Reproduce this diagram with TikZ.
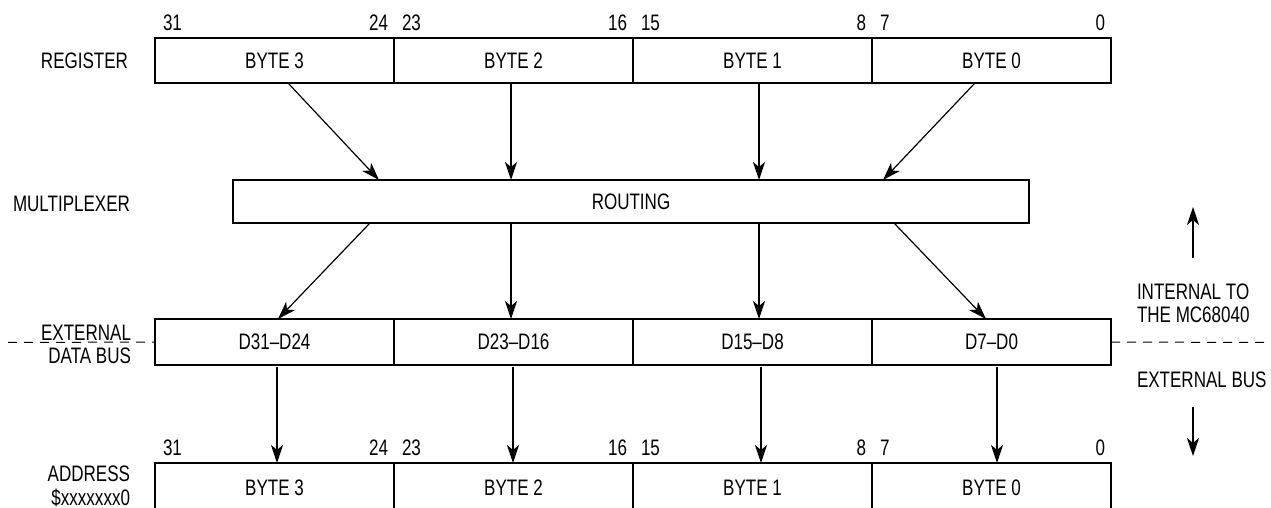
\documentclass[tikz,border=0pt]{standalone}
\usepackage{fontspec}
\setmainfont[FakeStretch=0.76]{Liberation Sans}
\usetikzlibrary{arrows.meta,calc}
\begin{document}
\begin{tikzpicture}[x=0.5pt,y=-0.5pt,
  every node/.style={font=\fontsize{11.2}{11.7}\selectfont, inner sep=0pt, outer sep=0pt},
  box/.style={draw, line width=1.3pt, minimum width=119.5pt, minimum height=22.5pt},
  arr/.style={line width=0.6pt, -{Stealth[length=9pt,width=6pt,inset=2.5pt]}},
  busline/.style={line width=0.5pt, dash pattern=on 4.5pt off 3.5pt},
  lbl/.style={anchor=east, align=right},
  bitl/.style={anchor=west},
  bitr/.style={anchor=east}]
\useasboundingbox (0,0) rectangle (1271,508);
\clip (0,0) rectangle (1271,508);

% register
\node[box] (r3) at (274.5,60.5) {BYTE 3};
\node[box] (r2) at (513.5,60.5) {BYTE 2};
\node[box] (r1) at (752.5,60.5) {BYTE 1};
\node[box] (r0) at (991.5,60.5) {BYTE 0};

% multiplexer
\node[box, minimum width=398pt, minimum height=21.5pt] (mux) at (631,201.5) {ROUTING};

% data bus
\node[box, minimum height=23pt] (d3) at (274.5,342) {D31–D24};
\node[box, minimum height=23pt] (d2) at (513.5,342) {D23–D16};
\node[box, minimum height=23pt] (d1) at (752.5,342) {D15–D8};
\node[box, minimum height=23pt] (d0) at (991.5,342) {D7–D0};

% address
\node[box, minimum height=25pt] (a3) at (274.5,488) {BYTE 3};
\node[box, minimum height=25pt] (a2) at (513.5,488) {BYTE 2};
\node[box, minimum height=25pt] (a1) at (752.5,488) {BYTE 1};
\node[box, minimum height=25pt] (a0) at (991.5,488) {BYTE 0};

% bit numbers
\foreach \k/\hi/\lo in {3/31/24, 2/23/16, 1/15/8, 0/7/0} {
  \node[bitl] (rh\k) at ($(r\k.north west)+(8,-15.5)$) {\hi};
  \node[bitr] (rl\k) at ($(r\k.north east)+(-6,-15.5)$) {\lo};
  \node[bitl] (ah\k) at ($(a\k.north west)+(8,-15)$) {\hi};
  \node[bitr] (al\k) at ($(a\k.north east)+(-6,-15)$) {\lo};
}

% register -> routing
\draw[arr] ($(r3.south)+(13.5,0)$) -- ($(mux.north)+(-252,0)$);
\draw[arr] ($(r2.south)+(-2.5,0)$) -- ($(mux.north)+(-120,0)$);
\draw[arr] ($(r1.south)+(6.5,0)$) -- ($(mux.north)+(128,0)$);
\draw[arr] ($(r0.south)+(-16.5,0)$) -- ($(mux.north)+(252,0)$);

% routing -> data bus
\draw[arr] ($(mux.south)+(-261,0)$) -- ($(d3.north)+(3.5,0)$);
\draw[arr] ($(mux.south)+(-120,0)$) -- ($(d2.north)+(-2.5,0)$);
\draw[arr] ($(mux.south)+(128,0)$) -- ($(d1.north)+(6.5,0)$);
\draw[arr] ($(mux.south)+(263,0)$) -- ($(d0.north)+(-5.5,0)$);

% data bus -> address
\draw[arr] ($(d3.south)+(2.5,2)$) -- ($(a3.north)+(2.5,0)$);
\draw[arr] ($(d2.south)+(-0.5,2)$) -- ($(a2.north)+(-0.5,0)$);
\draw[arr] ($(d1.south)+(8.5,2)$) -- ($(a1.north)+(8.5,0)$);
\draw[arr] ($(d0.south)+(5.5,2)$) -- ($(a0.north)+(5.5,0)$);

% dashed boundary
\coordinate (dashL) at (8,342.5);
\coordinate (dashR) at (1265,342.5);
\draw[busline] (dashL) -- (d3.west);
\draw[busline] (d0.east) -- (dashR);

% left labels
\node[lbl] (lreg) at (128,60.5) {REGISTER};
\node[lbl] (lmux) at (130,204) {MULTIPLEXER};
\node[lbl] (lext) at (131,344.5) {EXTERNAL\\DATA BUS};
\node[lbl] (ladr) at (130,486.5) {ADDRESS\\\$xxxxxxx0};

% right labels
\node[anchor=west, align=left] (lint) at (1137,303.5) {INTERNAL TO\\THE MC68040};
\node[anchor=west] (lexb) at (1137,379.5) {EXTERNAL BUS};
\coordinate (upS) at (1193,258);
\coordinate (upE) at (1193,207);
\coordinate (dnS) at (1193,407);
\coordinate (dnE) at (1193,456);
\draw[arr] (upS) -- (upE);
\draw[arr] (dnS) -- (dnE);
\end{tikzpicture}
\end{document}
